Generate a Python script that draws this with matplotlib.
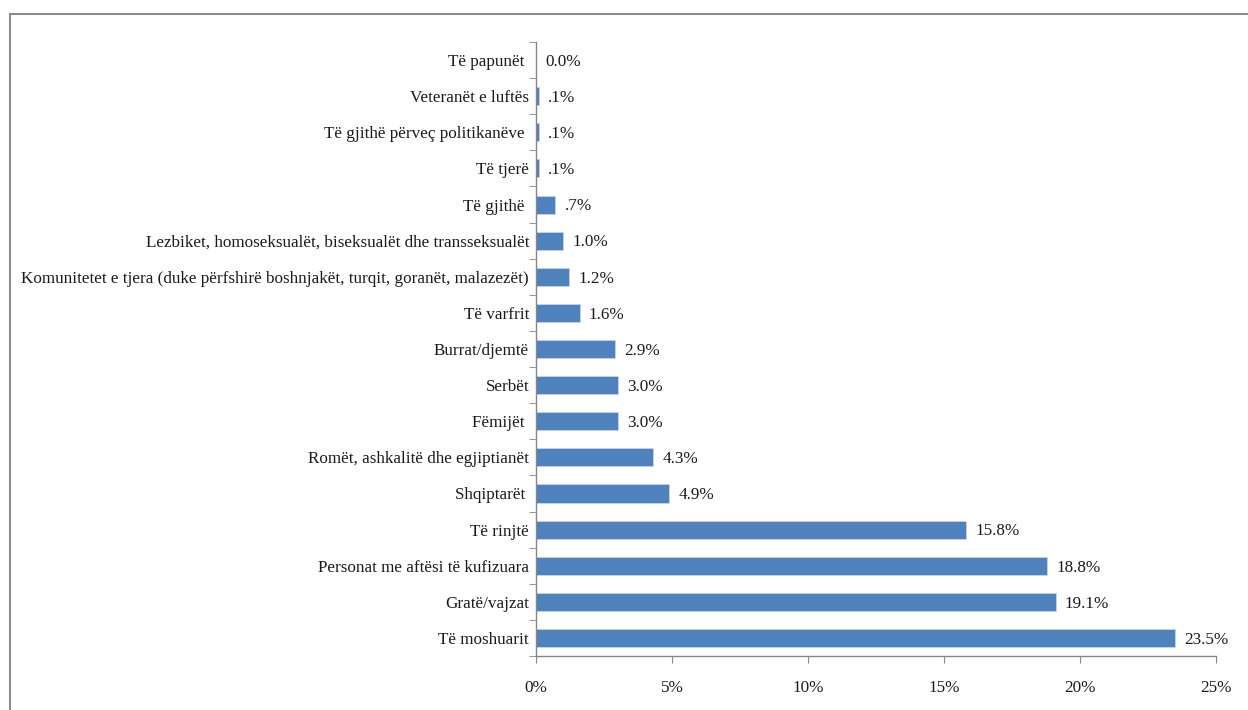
import matplotlib
matplotlib.use('Agg')
import matplotlib.pyplot as plt
from matplotlib.patches import Rectangle
import numpy as np

plt.rcParams['font.family'] = ['Liberation Serif', 'DejaVu Serif']

# kategoritë nga lart poshtë
categories = [
    'Të papunët ',
    'Veteranët e luftës',
    'Të gjithë përveç politikanëve ',
    'Të tjerë',
    'Të gjithë ',
    'Lezbiket, homoseksualët, biseksualët dhe transseksualët',
    'Komunitetet e tjera (duke përfshirë boshnjakët, turqit, goranët, malazezët)',
    'Të varfrit',
    'Burrat/djemtë',
    'Serbët',
    'Fëmijët ',
    'Romët, ashkalitë dhe egjiptianët',
    'Shqiptarët ',
    'Të rinjtë',
    'Personat me aftësi të kufizuara',
    'Gratë/vajzat',
    'Të moshuarit',
]
values = [0.0, 0.1, 0.1, 0.1, 0.7, 1.0, 1.2, 1.6, 2.9, 3.0, 3.0, 4.3, 4.9, 15.8, 18.8, 19.1, 23.5]
xticks = [0, 5, 10, 15, 20, 25]


def fmt(v):
    s = f'{v:.1f}%'
    if 0 < v < 1:
        s = s[1:]
    return s


fig = plt.figure(figsize=(12.48, 7.10), dpi=100)
ax = fig.add_axes([536 / 1248, 1 - 656 / 710, (1216 - 536) / 1248, (656 - 42) / 710])

# kornizë e figurës
fig.patches.append(Rectangle((10 / 1248, -0.05), 1.2, 1 - 14 / 710 + 0.05,
                             transform=fig.transFigure, fill=False,
                             edgecolor='#8c8c8c', lw=1.5))

y = np.arange(len(categories))
ax.barh(y, values, height=0.5, color='#4f81bd', edgecolor='#c5d5ea', lw=0.6)
ax.set_ylim(len(categories) - 0.5, -0.5)
ax.set_xlim(0, 25)

for yi, v in zip(y, values):
    ax.text(v + 0.35, yi + 0.05, fmt(v), va='center', ha='left', fontsize=12.3, color='#1a1a1a')

ax.set_yticks(y)
ax.set_yticklabels(categories, fontsize=12.3, color='#1a1a1a')
ax.set_yticks(np.arange(len(categories) + 1) - 0.5, minor=True)
ax.tick_params(axis='y', which='major', length=0, pad=5)
ax.tick_params(axis='y', which='minor', length=5, color='#868686', direction='out')
ax.set_xticks(xticks)
ax.set_xticklabels([f'{t}%' for t in xticks], fontsize=12.3, color='#1a1a1a')
ax.tick_params(axis='x', length=5, color='#868686', pad=12)

for s in ['top', 'right']:
    ax.spines[s].set_visible(False)
for s in ['left', 'bottom']:
    ax.spines[s].set_color('#868686')
    ax.spines[s].set_linewidth(1)

fig.savefig('out.png', dpi=100)
